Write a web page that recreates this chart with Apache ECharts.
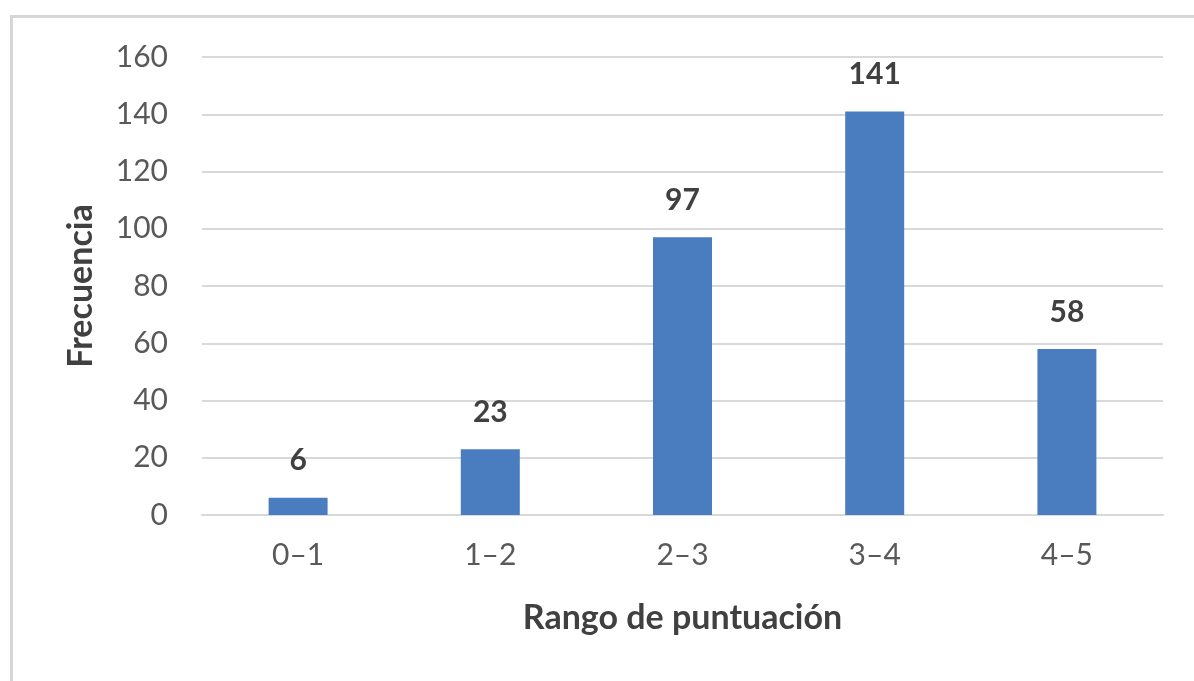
<!DOCTYPE html>
<html>
<head>
<meta charset="utf-8">
<script src="https://cdn.jsdelivr.net/npm/echarts@6/dist/echarts.min.js"></script>
<style>
html,body{margin:0;padding:0;background:#fff;}
#chart{width:1194px;height:681px;}
</style>
</head>
<body>
<div id="chart"></div>
<script>
const categories = ['0–1', '1–2', '2–3', '3–4', '4–5'];
const frequencies = [6, 23, 97, 141, 58];
const yTicks = { min: 0, max: 160, interval: 20 };
const xAxisTitle = 'Rango de puntuación';
const yAxisTitle = 'Frecuencia';

const FONT = 'Lato, "Open Sans", sans-serif';
const chart = echarts.init(document.getElementById('chart'), null, { renderer: 'canvas' });
chart.setOption({
  animation: false,
  backgroundColor: '#ffffff',
  graphic: [{
    type: 'rect',
    left: 9, top: 14,
    shape: { width: 1400, height: 900 },
    style: { fill: 'none', stroke: '#d6d6d6', lineWidth: 3 },
    silent: true
  }],
  grid: { left: 202, right: 31, top: 57, bottom: 166, containLabel: false },
  xAxis: {
    type: 'category',
    data: categories,
    axisLine: { show: true, lineStyle: { color: '#d9d9d9', width: 2 } },
    axisTick: { show: false },
    axisLabel: { color: '#595959', fontFamily: FONT, fontSize: 30, margin: 25 },
    name: xAxisTitle,
    nameLocation: 'middle',
    nameGap: 86,
    nameTextStyle: { color: '#404040', fontFamily: FONT, fontSize: 34, fontWeight: 'bold' }
  },
  yAxis: {
    type: 'value',
    min: yTicks.min, max: yTicks.max, interval: yTicks.interval,
    axisLine: { show: false },
    axisTick: { show: false },
    splitLine: { lineStyle: { color: '#d9d9d9', width: 2 } },
    axisLabel: { color: '#595959', fontFamily: FONT, fontSize: 30, margin: 34 },
    name: yAxisTitle,
    nameLocation: 'middle',
    nameGap: 104,
    nameTextStyle: { color: '#404040', fontFamily: FONT, fontSize: 34, fontWeight: 'bold' }
  },
  series: [{
    type: 'bar',
    data: frequencies,
    barWidth: 59,
    itemStyle: { color: '#4a7dc0' },
    label: {
      show: true, position: 'top', distance: 22,
      color: '#404040', fontFamily: FONT, fontSize: 30, fontWeight: 'bold'
    }
  }]
});
</script>
</body>
</html>
